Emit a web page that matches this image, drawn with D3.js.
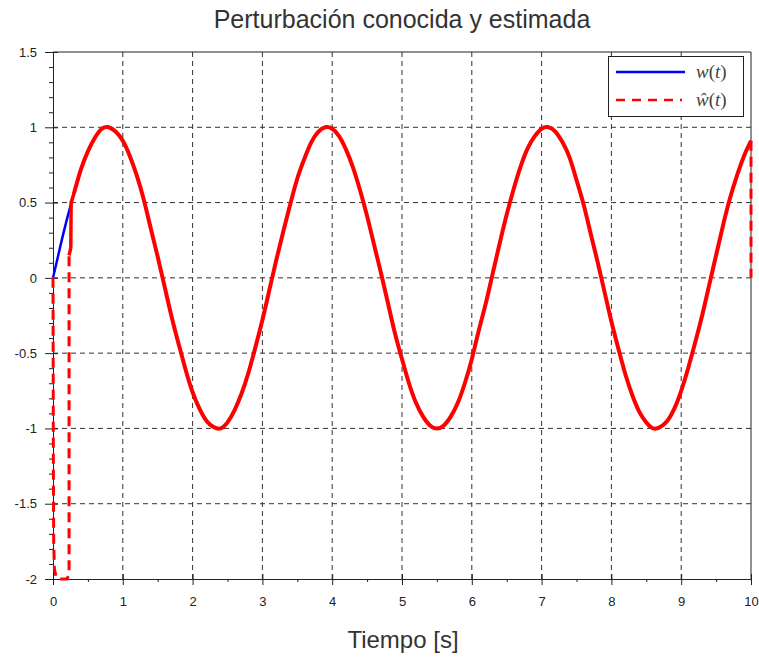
<!DOCTYPE html>
<html>
<head>
<meta charset="utf-8">
<script src="https://cdn.jsdelivr.net/npm/d3@7"></script>
<style>
body { margin: 0; background: #fff; }
text { font-family: "Liberation Sans", Arial, sans-serif; fill: #222; }
</style>
</head>
<body>
<script>
// datos
var tSamples = d3.range(0, 10.0001, 0.1);
var wValues = [0, 0.20, 0.39, 0.56, 0.72, 0.84, 0.93, 0.99, 1.00, 0.97,
  0.91, 0.81, 0.68, 0.52, 0.33, 0.14, -0.06, -0.26, -0.44, -0.61,
  -0.76, -0.87, -0.95, -0.99, -1.00, -0.96, -0.88, -0.77, -0.63, -0.46,
  -0.28, -0.08, 0.12, 0.31, 0.49, 0.66, 0.79, 0.90, 0.97, 1.00,
  0.99, 0.94, 0.85, 0.73, 0.58, 0.41, 0.22, 0.03, -0.17, -0.37,
  -0.54, -0.70, -0.83, -0.92, -0.98, -1.00, -0.98, -0.92, -0.83, -0.70,
  -0.54, -0.35, -0.17, 0.03, 0.23, 0.42, 0.59, 0.74, 0.86, 0.94,
  0.99, 1.00, 0.97, 0.90, 0.80, 0.65, 0.49, 0.30, 0.11, -0.09,
  -0.29, -0.47, -0.64, -0.78, -0.89, -0.96, -1.00, -0.99, -0.95, -0.87,
  -0.75, -0.60, -0.43, -0.25, -0.05, 0.15, 0.35, 0.53, 0.68, 0.81,
  0.91];

// transitorio inicial del estimador
var estStartT = [0, 0.005, 0.01, 0.02, 0.04, 0.08, 0.2, 0.23, 0.23];
var estStartW = [0, -1.2, -1.75, -1.93, -1.98, -2.0, -2.0, -1.97, 0.15];
// tramo de enganche al seguimiento
var estJoinT = [0.23, 0.255, 0.26, 0.3];
var estJoinW = [0.15, 0.2, 0.5, 0.56];
// caida final
var estEndT = [10, 10];
var estEndW = [0.91, 0];

var xTicks = [0, 1, 2, 3, 4, 5, 6, 7, 8, 9, 10];
var yTicks = [-2, -1.5, -1, -0.5, 0, 0.5, 1, 1.5];
var title = "Perturbación conocida y estimada";
var xLabel = "Tiempo [s]";

var width = 759, height = 658;
var padding = {left: 53, right: 8, top: 52, bottom: 79};

var svg = d3.select('body').append('svg')
  .attr('width', width)
  .attr('height', height);

var xScale = d3.scaleLinear().domain([0, 10]).range([padding.left, width - padding.right]);
var yScale = d3.scaleLinear().domain([-2, 1.5]).range([height - padding.bottom, padding.top]);

var x0 = xScale(0), x1 = xScale(10), y0 = yScale(-2), y1 = yScale(1.5);

// rejilla
var grid = svg.append('g').attr('stroke', '#333').attr('stroke-width', 1).attr('stroke-dasharray', '5,4');
grid.selectAll('.gx').data(xTicks.slice(1, -1)).enter().append('line')
  .attr('x1', function(d){ return xScale(d); }).attr('x2', function(d){ return xScale(d); })
  .attr('y1', y0).attr('y2', y1);
grid.selectAll('.gy').data(yTicks.slice(1, -1)).enter().append('line')
  .attr('y1', function(d){ return yScale(d); }).attr('y2', function(d){ return yScale(d); })
  .attr('x1', x0).attr('x2', x1);

// caja
svg.append('line').attr('x1', x0).attr('x2', x1).attr('y1', y1).attr('y2', y1).attr('stroke', '#222');
svg.append('line').attr('x1', x1).attr('x2', x1).attr('y1', y0).attr('y2', y1).attr('stroke', '#222');

// ejes
var xAxis = d3.axisBottom(xScale).tickValues(xTicks).tickSize(6).tickPadding(12)
  .tickFormat(d3.format('d'));
var gx = svg.append('g').attr('transform', 'translate(0,' + y0 + ')').call(xAxis);
gx.selectAll('.tick line').attr('stroke', '#222').attr('y1', -5);
gx.select('.domain').attr('stroke', '#222');
gx.selectAll('.tick text').attr('font-size', 13).attr('fill', '#222')
  .attr('font-family', '"Liberation Sans", Arial, sans-serif');
var xMinor = d3.axisBottom(xScale).tickValues(d3.range(0.5, 10, 1)).tickSize(3).tickFormat('');
svg.append('g').attr('transform', 'translate(0,' + y0 + ')').call(xMinor)
  .call(function(g){ g.select('.domain').remove(); g.selectAll('line').attr('stroke', '#222'); });

var yAxis = d3.axisLeft(yScale).tickValues(yTicks).tickSize(8).tickPadding(8)
  .tickFormat(function(d){ return String(d); });
var gy = svg.append('g').attr('transform', 'translate(' + x0 + ',0)').call(yAxis);
gy.selectAll('.tick line').attr('stroke', '#222').attr('x1', 5);
gy.select('.domain').attr('stroke', '#222');
gy.selectAll('.tick text').attr('font-size', 13).attr('fill', '#222')
  .attr('font-family', '"Liberation Sans", Arial, sans-serif');
var yMinorVals = d3.range(-19, 15).map(function(i){ return i / 10; })
  .filter(function(v){ return Math.abs(v * 2 - Math.round(v * 2)) > 1e-6; });
var yMinor = d3.axisLeft(yScale).tickValues(yMinorVals).tickSize(4).tickFormat('');
svg.append('g').attr('transform', 'translate(' + x0 + ',0)').call(yMinor)
  .call(function(g){ g.select('.domain').remove(); g.selectAll('line').attr('stroke', '#222'); });

// curvas
var wData = tSamples.map(function(t, i){ return [t, wValues[i]]; });
var zip = function(a, b){ return a.map(function(v, i){ return [v, b[i]]; }); };
var plain = d3.line().x(function(d){ return xScale(d[0]); }).y(function(d){ return yScale(d[1]); });
var smooth = d3.line().x(function(d){ return xScale(d[0]); }).y(function(d){ return yScale(d[1]); })
  .curve(d3.curveNatural);

svg.append('path').datum(wData)
  .attr('d', smooth)
  .attr('fill', 'none').attr('stroke', '#0000ff').attr('stroke-width', 2.5);

svg.append('path').datum(zip(estStartT, estStartW))
  .attr('d', plain)
  .attr('fill', 'none').attr('stroke', '#ff0000').attr('stroke-width', 3)
  .attr('stroke-dasharray', '10,6');
svg.append('path').datum(zip(estJoinT, estJoinW))
  .attr('d', plain)
  .attr('fill', 'none').attr('stroke', '#ff0000').attr('stroke-width', 3.5);
var trackData = wData.filter(function(d){ return d[0] >= 0.29; });
svg.append('path').datum(trackData)
  .attr('d', smooth)
  .attr('fill', 'none').attr('stroke', '#ff0000').attr('stroke-width', 4);
svg.append('path').datum(zip(estEndT, estEndW))
  .attr('d', plain)
  .attr('fill', 'none').attr('stroke', '#ff0000').attr('stroke-width', 3)
  .attr('stroke-dasharray', '10,6');

// leyenda
var lg = svg.append('g');
lg.append('rect').attr('x', 608.5).attr('y', 56.5).attr('width', 135).attr('height', 60)
  .attr('fill', '#fff').attr('stroke', '#222').attr('stroke-width', 1);
lg.append('line').attr('x1', 616).attr('x2', 685).attr('y1', 72).attr('y2', 72)
  .attr('stroke', '#0000ff').attr('stroke-width', 2.5);
lg.append('line').attr('x1', 616).attr('x2', 682).attr('y1', 100).attr('y2', 100)
  .attr('stroke', '#ff0000').attr('stroke-width', 2.5).attr('stroke-dasharray', '9,7');
[['w', 78], ['ŵ', 106]].forEach(function(p){
  var t = lg.append('text').attr('x', 696).attr('y', p[1]).attr('font-size', 19)
    .style('font-family', '"Liberation Serif", serif').style('fill', '#444');
  t.append('tspan').attr('font-style', 'italic').text(p[0]);
  t.append('tspan').text('(');
  t.append('tspan').attr('font-style', 'italic').text('t');
  t.append('tspan').text(')');
});

// titulos
svg.append('text').attr('x', (x0 + x1) / 2).attr('y', 28).attr('text-anchor', 'middle')
  .attr('font-size', 25).style('fill', '#333').text(title);
svg.append('text').attr('x', (x0 + x1) / 2 + 1).attr('y', 648).attr('text-anchor', 'middle')
  .attr('font-size', 24).style('fill', '#333').text(xLabel);
</script>
</body>
</html>
